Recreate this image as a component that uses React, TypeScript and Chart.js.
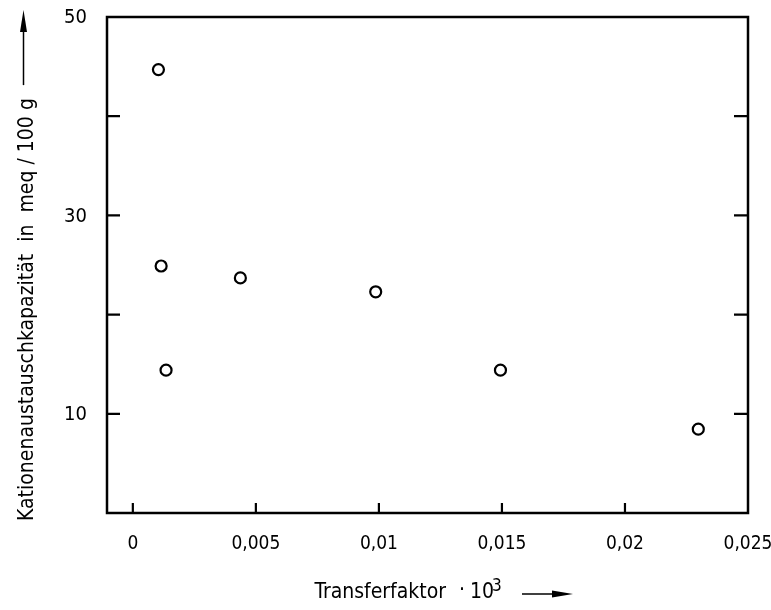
import React, { useEffect, useRef } from "react";
import { Chart, registerables } from "chart.js";

Chart.register(...registerables);

const xValues = [0.00104, 0.00115, 0.00135, 0.00437, 0.00987, 0.01494, 0.02298];
const yValues = [44.7, 24.9, 14.4, 23.7, 22.3, 14.4, 8.45];
const xTicks = [0, 0.005, 0.01, 0.015, 0.02, 0.025];
const xTickLabels = ["0", "0,005", "0,01", "0,015", "0,02", "0,025"];
const yTicks = [10, 20, 30, 40, 50];
const yTickLabels = ["10", "", "30", "", "50"];
const xTitle = "Transferfaktor";
const xTitleFactor = "10";
const xTitleExp = "3";
const yTitle = "Kationenaustauschkapazität  in  meq / 100 g";

const FONT = '"DejaVu Sans Condensed", "Liberation Sans Narrow", sans-serif';

const framePlugin = {
  id: "frame",
  afterDraw(chart: any) {
    const { ctx, chartArea: a, scales } = chart;
    const xs = scales.x;
    const ys = scales.y;
    ctx.save();
    ctx.strokeStyle = "#000";
    ctx.fillStyle = "#000";
    ctx.lineWidth = 2.5;
    ctx.lineCap = "butt";
    ctx.strokeRect(a.left, a.top, a.right - a.left, a.bottom - a.top);
    ctx.lineWidth = 2.2;
    ctx.font = `20px ${FONT}`;
    yTicks.forEach((v, i) => {
      const py = ys.getPixelForValue(v);
      if (v < 50) {
        ctx.beginPath();
        ctx.moveTo(a.left, py);
        ctx.lineTo(a.left + 13, py);
        ctx.moveTo(a.right, py);
        ctx.lineTo(a.right - 14, py);
        ctx.stroke();
      }
      if (yTickLabels[i]) {
        ctx.textAlign = "right";
        ctx.textBaseline = "middle";
        ctx.fillText(yTickLabels[i], a.left - 20, py + 1);
      }
    });
    ctx.font = `19px ${FONT}`;
    xTicks.forEach((v, i) => {
      const px = xs.getPixelForValue(v);
      if (v < 0.025) {
        ctx.beginPath();
        ctx.moveTo(px, a.bottom);
        ctx.lineTo(px, a.bottom - 10);
        ctx.stroke();
      }
      ctx.textAlign = "center";
      ctx.textBaseline = "middle";
      ctx.fillText(xTickLabels[i], px, a.bottom + 31);
    });

    // x title
    ctx.font = `21px ${FONT}`;
    ctx.textBaseline = "alphabetic";
    ctx.textAlign = "right";
    ctx.fillText(xTitle, 446, 598);
    ctx.textAlign = "center";
    ctx.fillText("·", 462, 596);
    ctx.textAlign = "left";
    ctx.fillText(xTitleFactor, 470, 598);
    ctx.font = `17px ${FONT}`;
    ctx.fillText(xTitleExp, 492, 591);
    ctx.lineWidth = 1.5;
    ctx.beginPath();
    ctx.moveTo(522, 594);
    ctx.lineTo(556, 594);
    ctx.stroke();
    ctx.beginPath();
    ctx.moveTo(573, 594);
    ctx.lineTo(552, 590.5);
    ctx.lineTo(552, 597.5);
    ctx.closePath();
    ctx.fill();

    // y title
    ctx.font = `21px ${FONT}`;
    const w = ctx.measureText(yTitle).width;
    ctx.save();
    ctx.translate(33, 521);
    ctx.rotate(-Math.PI / 2);
    ctx.textAlign = "left";
    ctx.fillText(yTitle, 0, 0);
    ctx.restore();
    const startY = 521 - w - 13;
    ctx.lineWidth = 1.5;
    ctx.beginPath();
    ctx.moveTo(23.5, startY);
    ctx.lineTo(23.5, 28);
    ctx.stroke();
    ctx.beginPath();
    ctx.moveTo(23.5, 10);
    ctx.lineTo(20, 32);
    ctx.lineTo(27, 32);
    ctx.closePath();
    ctx.fill();
    ctx.restore();
  },
};

export default function App() {
  const ref = useRef<HTMLCanvasElement | null>(null);
  useEffect(() => {
    if (!ref.current) return;
    const chart = new Chart(ref.current, {
      type: "scatter",
      data: {
        datasets: [
          {
            data: xValues.map((x, i) => ({ x, y: yValues[i] })),
            pointRadius: 5.5,
            pointBorderWidth: 2.2,
            pointBorderColor: "#000",
            pointBackgroundColor: "#fff",
            pointHoverRadius: 5.5,
          },
        ],
      },
      options: {
        animation: false,
        responsive: false,
        maintainAspectRatio: false,
        layout: { padding: { top: 17, right: 23, left: 0, bottom: 0 } },
        plugins: { legend: { display: false }, tooltip: { enabled: false } },
        events: [],
        scales: {
          x: {
            type: "linear",
            min: -0.00105,
            max: 0.025,
            afterBuildTicks: (s: any) => {
              s.ticks = xTicks.map((v) => ({ value: v }));
            },
            afterFit: (s: any) => {
              s.height = 97;
            },
            grid: { display: false, drawTicks: false },
            border: { display: false },
            ticks: { display: false },
          },
          y: {
            type: "linear",
            min: 0,
            max: 50,
            afterBuildTicks: (s: any) => {
              s.ticks = yTicks.map((v) => ({ value: v }));
            },
            afterFit: (s: any) => {
              s.width = 107;
            },
            grid: { display: false, drawTicks: false },
            border: { display: false },
            ticks: { display: false },
          },
        },
      },
      plugins: [framePlugin],
    } as any);
    return () => chart.destroy();
  }, []);
  return (
    <div style={{ position: "fixed", left: 0, top: 0, width: 771, height: 610, background: "#fff" }}>
      <canvas ref={ref} width={771} height={610} style={{ width: 771, height: 610 }} />
    </div>
  );
}
